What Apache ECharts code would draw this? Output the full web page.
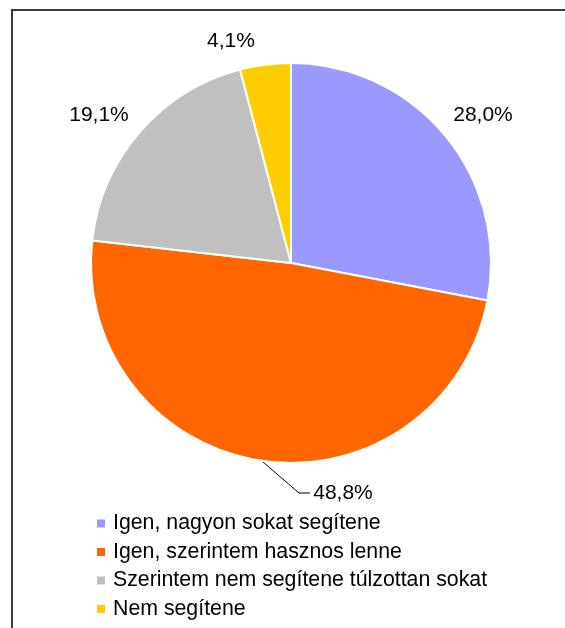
<!DOCTYPE html>
<html>
<head>
<meta charset="utf-8">
<script src="https://cdn.jsdelivr.net/npm/echarts@6/dist/echarts.min.js"></script>
<style>
  html, body { margin: 0; padding: 0; background: #fff; }
  #frame { position: absolute; left: 11px; top: 9px; width: 600px; height: 700px; border-left: 2px solid #3a3a3a; border-top: 2px solid #3a3a3a; }
  #chart { position: absolute; left: 0; top: 0; width: 565px; height: 628px; }
</style>
</head>
<body>
<div id="frame"></div>
<div id="chart"></div>
<script>
// kategóriák és értékek (%)
const categories = ['Igen, nagyon sokat segítene', 'Igen, szerintem hasznos lenne', 'Szerintem nem segítene túlzottan sokat', 'Nem segítene'];
const values = [28.0, 48.8, 19.1, 4.1];
const colors = ['#9999FF', '#FF6600', '#C0C0C0', '#FFCC00'];

// címkék helye (csak elrendezés)
const labelPos = [[483, 115], [343, 493], [99, 115], [231, 41]];

const myChart = echarts.init(document.getElementById('chart'));
const option = {
    animation: false,
    textStyle: { fontFamily: 'Liberation Sans, Arial, sans-serif' },
    legend: {
        orient: 'vertical',
        left: 95,
        top: 513,
        height: 130,
        padding: 0,
        itemWidth: 10,
        itemHeight: 10,
        itemGap: 7.5,
        icon: 'rect',
        data: categories,
        textStyle: { fontSize: 21.3, color: '#000', padding: [0, 0, 0, 2], fontFamily: 'Liberation Sans, Arial, sans-serif' }
    },
    series: [
        {
            type: 'pie',
            center: [291, 263],
            radius: [0, 200],
            startAngle: 90,
            clockwise: true,
            itemStyle: { borderColor: '#fff', borderWidth: 2 },
            label: {
                show: true,
                position: 'outside',
                fontSize: 21,
                color: '#000',
                fontFamily: 'Liberation Sans, Arial, sans-serif',
                formatter: p => p.value.toFixed(1).replace('.', ',') + '%'
            },
            labelLine: { show: false },
            emphasis: { disabled: true },
            data: categories.map((c, i) => ({
                name: c,
                value: values[i],
                itemStyle: { color: colors[i] },
                labelLine: { show: i === 1, lineStyle: { color: '#000', width: 1 } }
            })),
            labelLayout: function (params) {
                const p = labelPos[params.dataIndex];
                const res = { x: p[0], y: p[1], align: 'center', verticalAlign: 'middle' };
                if (params.dataIndex === 1) {
                    res.labelLinePoints = [[263, 462], [299, 493], [310, 493]];
                }
                return res;
            }
        }
    ]
};
myChart.setOption(option);
</script>
</body>
</html>
